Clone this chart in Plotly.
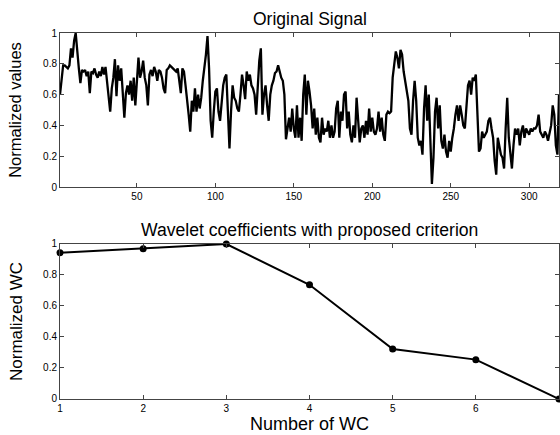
import plotly.graph_objects as go

signal = [
    0.60, 0.71, 0.79, 0.79, 0.78, 0.77, 0.79, 0.90, 0.84, 0.95,
    1.00, 0.86, 0.77, 0.675, 0.76, 0.75, 0.76, 0.72, 0.75, 0.61,
    0.75, 0.74, 0.77, 0.73, 0.71, 0.75, 0.72, 0.78, 0.73, 0.78,
    0.69, 0.60, 0.49, 0.64, 0.71, 0.83, 0.59, 0.79, 0.69, 0.77,
    0.64, 0.45, 0.61, 0.66, 0.60, 0.69, 0.56, 0.71, 0.53, 0.70,
    0.84, 0.71,
    0.75, 0.82, 0.71, 0.66, 0.53, 0.73, 0.76, 0.72, 0.78, 0.75,
    0.69, 0.76, 0.75, 0.71, 0.64, 0.61, 0.76, 0.77, 0.79, 0.78,
    0.77, 0.76, 0.75, 0.77, 0.69, 0.61, 0.77, 0.75, 0.66, 0.58,
    0.47, 0.36, 0.56, 0.49, 0.64, 0.49, 0.60, 0.51, 0.58, 0.69,
    0.77, 0.86, 0.98, 0.77, 0.43, 0.32, 0.49, 0.62, 0.64, 0.49,
    0.43, 0.56, 0.66,
    0.71, 0.73, 0.49, 0.25, 0.49, 0.66, 0.58, 0.56, 0.51, 0.49,
    0.60, 0.73, 0.66, 0.57, 0.75, 0.69, 0.73, 0.66, 0.64, 0.60,
    0.47, 0.66, 0.82, 0.90, 0.47, 0.60, 0.66, 0.53, 0.43, 0.60,
    0.66, 0.69, 0.74, 0.75, 0.79, 0.75, 0.71, 0.69, 0.60, 0.31,
    0.38, 0.45, 0.36, 0.51, 0.38, 0.32, 0.53, 0.32, 0.45, 0.30,
    0.60, 0.73, 0.47,
    0.69, 0.62, 0.53, 0.38, 0.51, 0.34, 0.45, 0.32, 0.29, 0.45,
    0.34, 0.38, 0.36, 0.43, 0.32, 0.40, 0.32, 0.36, 0.51, 0.56,
    0.32, 0.49, 0.43, 0.60, 0.62, 0.38, 0.49, 0.34, 0.29, 0.40,
    0.32, 0.58, 0.43, 0.29, 0.38, 0.40, 0.32, 0.43, 0.34, 0.51,
    0.36, 0.45, 0.36, 0.34, 0.38, 0.49, 0.36, 0.45, 0.34, 0.30,
    0.47, 0.49, 0.48,
    0.49, 0.71, 0.79, 0.88, 0.84, 0.77, 0.89, 0.86, 0.75, 0.69,
    0.62, 0.56, 0.38, 0.34, 0.56, 0.69, 0.56, 0.32, 0.27, 0.30,
    0.21, 0.51, 0.66, 0.43, 0.60, 0.25, 0.02, 0.19, 0.49, 0.58,
    0.38, 0.53, 0.30, 0.25, 0.34, 0.23, 0.19, 0.30, 0.23, 0.32,
    0.38, 0.47, 0.53, 0.43, 0.53, 0.47, 0.40, 0.38, 0.53, 0.66,
    0.69, 0.60, 0.71,
    0.69, 0.73, 0.47, 0.23, 0.25, 0.36, 0.32, 0.34, 0.36, 0.43,
    0.45, 0.38, 0.32, 0.17, 0.08, 0.32, 0.25, 0.21, 0.19, 0.12,
    0.38, 0.58, 0.32, 0.19, 0.12, 0.27, 0.38, 0.34, 0.38, 0.27,
    0.36, 0.40, 0.32, 0.38, 0.36, 0.34, 0.38, 0.36, 0.38, 0.38,
    0.40, 0.47, 0.36, 0.34, 0.32, 0.36, 0.34, 0.30, 0.36, 0.40,
    0.53, 0.47, 0.27, 0.21, 0.60,
]
sample_idx = list(range(1, len(signal) + 1))

wc_num = [1, 2, 3, 4, 5, 6, 7]
wc_val = [0.944, 0.97, 1.0, 0.737, 0.323, 0.254, 0.0]

top_xticks = [50, 100, 150, 200, 250, 300]
yticks = [0, 0.2, 0.4, 0.6, 0.8, 1]
yticklabels = ["0", "0.2", "0.4", "0.6", "0.8", "1"]

FONT = "Liberation Sans, Arial, sans-serif"
AX = "#444444"

fig = go.Figure()
fig.add_trace(go.Scatter(x=sample_idx, y=signal, mode="lines",
                         line=dict(color="black", width=2.3), xaxis="x", yaxis="y",
                         showlegend=False))
fig.add_trace(go.Scatter(x=wc_num, y=wc_val, mode="lines+markers",
                         line=dict(color="black", width=2),
                         marker=dict(color="black", size=7),
                         xaxis="x2", yaxis="y2", showlegend=False, cliponaxis=False))

common = dict(showgrid=False, zeroline=False, showline=True, linecolor=AX, linewidth=1,
              mirror="ticks", ticks="inside", ticklen=4, tickcolor=AX,
              tickfont=dict(family=FONT, size=10, color="black"))

fig.update_layout(
    width=560, height=435,
    margin=dict(l=60, r=1, t=33, b=36),
    paper_bgcolor="white", plot_bgcolor="white",
    font=dict(family=FONT, color="black"),
    xaxis=dict(domain=[0, 1], range=[1, len(signal)], tickvals=top_xticks,
               anchor="y", **common),
    yaxis=dict(domain=[0.5792, 1], range=[0, 1], tickvals=yticks, ticktext=yticklabels,
               anchor="x",
               title=dict(text="Normalized values", font=dict(family=FONT, size=16.5), standoff=17),
               **common),
    xaxis2=dict(domain=[0, 1], range=[1, 7], tickvals=wc_num, anchor="y2",
                title=dict(text="Number of WC", font=dict(family=FONT, size=18), standoff=3),
                **common),
    yaxis2=dict(domain=[0, 0.4235], range=[0, 1], tickvals=yticks, ticktext=yticklabels,
                anchor="x2",
                title=dict(text="Normalized WC", font=dict(family=FONT, size=17), standoff=16),
                **common),
    annotations=[
        dict(text="Original Signal", x=0.5, y=1, xref="paper", yref="paper",
             xanchor="center", yanchor="bottom", yshift=2, showarrow=False,
             font=dict(family=FONT, size=17.5)),
        dict(text="Wavelet coefficients with proposed criterion", x=0.5, y=0.4235,
             xref="paper", yref="paper", xanchor="center", yanchor="bottom", yshift=2,
             showarrow=False, font=dict(family=FONT, size=17.6)),
    ],
)

fig.write_html("out.html")
